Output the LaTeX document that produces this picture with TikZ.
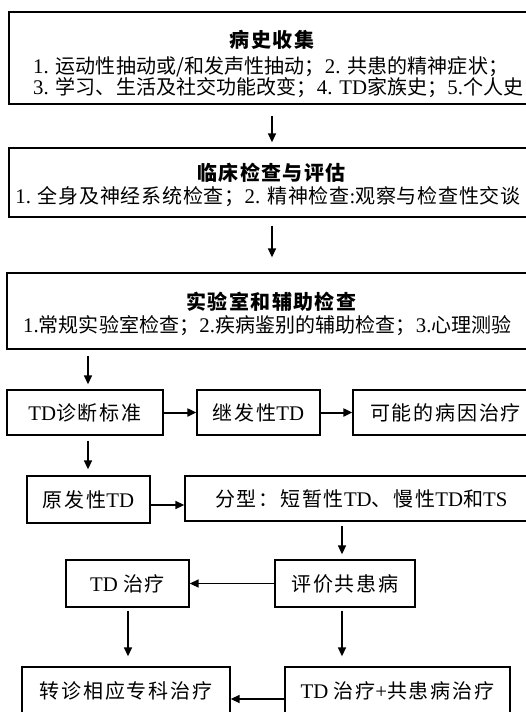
\documentclass[tikz,border=0pt]{standalone}
\usepackage{fontspec}
\setmainfont{Noto Sans CJK SC}[LetterSpace=0.5]
\newfontfamily\cjkmid{Noto Sans CJK SC}[LetterSpace=3.8]
\newfontfamily\cjkwide{Noto Sans CJK SC}[LetterSpace=9]
\newfontfamily\cjkttl{Noto Sans CJK SC}[LetterSpace=7]
\newfontfamily\lat{Liberation Serif}[Scale=1.04]
\usetikzlibrary{arrows.meta}
\begin{document}
\begin{tikzpicture}[x=1pt,y=-1pt,
  box/.style={draw,line width=1.3pt,inner sep=0pt},
  txt/.style={inner sep=0pt,font=\fontsize{20}{22}\selectfont},
  mtxt/.style={inner sep=0pt,font=\fontsize{20}{22}\selectfont\cjkmid},
  wtxt/.style={inner sep=0pt,font=\fontsize{20}{22}\selectfont\cjkwide},
  ttl/.style={inner sep=0pt,font=\fontsize{20}{22}\selectfont\cjkttl\bfseries},
  arr/.style={line width=1.5pt,-{Triangle[length=9pt,width=8pt]}}]
\useasboundingbox (0,0) rectangle (526,712);
% big boxes
\node[box,minimum width=521pt,minimum height=92pt] (b1) at (269.5,58) {};
\node[box,minimum width=521pt,minimum height=69pt] (b2) at (269.5,182.5) {};
\node[box,minimum width=523pt,minimum height=76pt] (b3) at (268.5,311) {};
\node[ttl] (t1) at (272,40) {病史收集};
\node[txt,anchor=west] (t1a) at (33,67) {{\lat 1. }运动性抽动或/和发声性抽动；{\lat 2. }共患的精神症状；};
\node[txt,anchor=west] (t1b) at (33,88) {{\lat 3. }学习、生活及社交功能改变；{\lat 4. TD}家族史；{\lat 5.}个人史};
\node[ttl] (t2) at (271.5,173) {临床检查与评估};
\node[mtxt] (t2a) at (268,197) {{\lat 1. }全身及神经系统检查；{\lat 2. }精神检查{\lat :}观察与检查性交谈};
\node[ttl] (t3) at (271.5,302) {实验室和辅助检查};
\node[txt] (t3a) at (267.5,326) {{\lat 1.}常规实验室检查；{\lat 2.}疾病鉴别的辅助检查；{\lat 3.}心理测验};
% small boxes
\node[box,wtxt,minimum width=156pt,minimum height=45pt] (d1) at (85,412.5) {{\lat TD}诊断标准};
\node[box,wtxt,minimum width=123pt,minimum height=45pt] (d2) at (258.5,412.5) {继发性{\lat TD}};
\node[box,wtxt,minimum width=177pt,minimum height=45pt,text width=177pt,align=left] (d3) at (441.5,412.5) {\hspace*{17pt}可能的病因治疗};
\node[box,wtxt,minimum width=123pt,minimum height=47pt] (p1) at (88.5,499.5) {原发性{\lat TD}};
\node[box,wtxt,minimum width=345pt,minimum height=45pt,text width=345pt,align=left] (p2) at (357.5,498.5) {\hspace*{30pt}分型：短暂性{\lat TD}、慢性{\lat TD}和{\lat TS}};
\node[box,wtxt,minimum width=140pt,minimum height=47pt] (e1) at (345,583.5) {评价共患病};
\node[box,wtxt,minimum width=123pt,minimum height=47pt] (e2) at (127.5,583.5) {{\lat TD }治疗};
\node[box,wtxt,minimum width=208pt,minimum height=47pt] (f1) at (126,690.5) {转诊相应专科治疗};
\node[box,wtxt,minimum width=225pt,minimum height=47pt] (f2) at (397.5,690.5) {{\lat TD }治疗{\lat +}共患病治疗};
% helper coordinates
\coordinate (xa) at (272,0);
\coordinate (xb) at (88,0);
\coordinate (xc) at (342,0);
\coordinate (xd) at (128,0);
\coordinate (ya) at (0,505);
\coordinate (yb) at (0,699);
% arrows
\draw[arr,shorten <=11pt,shorten >=5pt] (xa |- b1.south) -- (xa |- b2.north);
\draw[arr,shorten <=8pt,shorten >=15pt] (xa |- b2.south) -- (xa |- b3.north);
\draw[arr,shorten <=6pt,shorten >=5pt] (xb |- b3.south) -- (xb |- d1.north);
\draw[arr,line width=2pt] (d1.east) -- (d2.west);
\draw[arr,line width=2pt] (d2.east) -- (d3.west);
\draw[arr,shorten <=5pt,shorten >=6pt] (xb |- d1.south) -- (xb |- p1.north);
\draw[arr] (ya -| p1.east) -- (ya -| p2.west);
\draw[arr,shorten <=4pt,shorten >=5pt] (xc |- p2.south) -- (xc |- e1.north);
\draw[arr] (e1.west) -- (e2.east);
\draw[arr,shorten <=3pt,shorten >=10pt] (xd |- e2.south) -- (xd |- f1.north);
\draw[arr,shorten <=3pt,shorten >=10pt] (xc |- e1.south) -- (xc |- f2.north);
\draw[arr] (yb -| f2.west) -- (yb -| f1.east);
\end{tikzpicture}
\end{document}
